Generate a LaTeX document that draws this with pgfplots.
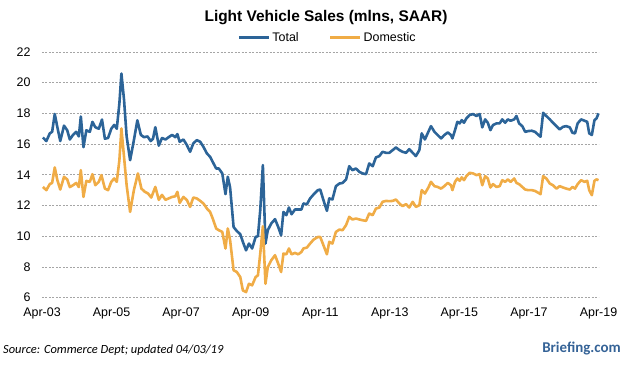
\documentclass[border=0pt]{standalone}
\usepackage{fontspec}
\setmainfont{Liberation Sans}
\newfontfamily\carlito{Carlito}
\usepackage{pgfplots}
\pgfplotsset{compat=1.18}
\usepackage{pgfplotstable}
\definecolor{totblue}{RGB}{44,100,152}
\definecolor{domorange}{RGB}{240,172,70}
\definecolor{gridgray}{RGB}{165,165,165}
\definecolor{brief}{RGB}{52,98,150}

\pgfplotstableread{
m v
0.3 16.43
1.5 16.2
2.7 16.7
3.5 16.8
4.4 17.96
5.3 17.1
6.3 16.2
7.6 17.2
8.7 16.9
9.6 16.3
10.7 16.6
11.8 16.8
12.7 16.5
13.4 17.8
14.3 15.8
15.3 16.9
16.5 16.8
17.4 17.45
18.4 17.1
19.6 17.0
20.7 17.6
21.7 16.35
22.8 16.4
23.9 17.0
24.9 17.25
25.8 17.0
26.7 18.65
27.4 20.6
28.3 18.9
29.2 16.5
30.4 14.95
31.7 16.25
32.9 17.55
34.1 16.6
35.2 16.45
36.4 16.5
37.5 16.2
38.3 16.35
39.1 17.1
40.3 15.9
41.4 16.4
42.6 16.3
43.7 16.45
44.9 16.6
46.0 16.45
46.7 16.65
47.5 16.15
48.8 16.3
50.0 15.93
51.1 15.5
52.2 16.04
53.4 16.26
54.6 16.15
55.7 15.82
56.9 15.39
58.0 15.17
58.9 14.84
60.1 14.41
61.0 14.41
62.2 14.09
63.3 12.74
64.1 13.87
64.9 13.17
66.1 10.6
67.2 10.34
68.4 10.13
69.3 9.63
70.4 9.08
71.4 9.52
72.5 9.2
73.7 9.95
74.5 10.0
75.3 11.7
76.2 14.63
77.1 9.52
77.9 10.39
79.1 10.83
80.4 11.11
81.5 10.6
82.5 10.06
83.3 11.58
84.3 11.37
85.2 11.87
86.1 11.43
87.3 11.74
88.4 11.74
89.5 11.74
90.2 12.13
91.4 12.08
92.5 12.46
93.7 12.72
95.2 13.0
96.0 13.04
97.1 12.35
98.3 11.65
99.1 12.46
100.2 12.39
101.4 13.26
102.6 13.43
103.7 13.47
104.9 13.69
106.0 14.56
107.1 14.3
108.3 14.41
109.5 14.19
110.6 14.09
111.8 14.04
112.9 14.74
114.1 14.56
115.2 15.13
116.4 15.22
117.5 15.5
118.7 15.43
119.8 15.43
121.0 15.61
122.1 15.78
123.3 15.61
124.4 15.5
125.6 15.43
126.7 15.67
127.9 15.43
129.0 15.22
130.2 15.61
131.0 16.7
132.1 16.3
133.3 16.8
134.2 17.17
135.4 16.8
136.5 16.59
137.7 16.37
138.8 16.59
140.0 16.76
141.1 16.59
141.6 16.37
142.5 16.91
143.3 17.45
144.1 17.35
144.8 17.56
145.6 17.39
146.4 17.67
147.5 17.89
148.7 17.96
149.9 17.83
151.0 17.96
151.9 17.09
152.9 17.61
153.8 17.39
154.7 16.91
155.6 17.24
156.8 17.35
157.9 17.35
158.8 17.61
159.8 17.39
160.7 17.61
161.7 17.52
162.9 17.61
163.7 17.83
164.6 17.35
165.7 17.17
166.7 16.8
167.8 16.85
169.0 16.87
170.1 16.8
171.3 16.59
172.0 16.48
172.9 18.04
174.0 17.83
175.2 17.61
176.3 17.39
177.5 17.17
178.6 16.96
179.8 17.13
180.9 17.17
182.1 17.09
183.0 16.74
183.9 16.7
184.8 17.35
186.0 17.61
187.2 17.52
188.1 17.45
188.8 16.7
189.7 16.59
190.6 17.56
191.3 17.67
192.0 18.0
}\totaltable

\pgfplotstableread{
m v
0.3 13.21
1.5 13.0
2.7 13.4
3.5 13.47
4.4 14.48
5.3 13.65
6.3 13.04
7.6 13.87
8.7 13.7
9.6 13.2
10.7 13.32
11.8 13.47
12.7 13.2
13.4 14.3
14.3 12.56
15.3 13.6
16.5 13.54
17.4 14.04
18.4 13.32
19.6 13.54
20.5 13.98
21.7 13.1
22.8 13.0
23.9 13.54
24.9 13.76
25.8 13.54
26.7 14.95
27.4 17.02
28.3 15.17
29.2 13.32
30.4 11.58
31.7 13.0
33.1 14.09
34.3 13.1
35.5 12.89
36.6 12.78
37.7 12.52
39.1 13.21
40.3 12.37
41.4 12.69
42.6 12.37
43.7 12.46
44.9 12.56
46.0 12.6
46.7 12.89
47.5 12.17
48.8 12.56
50.0 12.35
51.1 11.91
52.2 12.52
53.4 12.46
54.6 12.3
55.7 12.13
56.9 11.8
58.0 11.58
58.9 11.15
60.1 10.5
61.0 10.39
62.2 10.28
63.3 9.2
64.1 10.5
64.9 9.74
66.1 7.78
67.2 7.67
68.4 7.34
69.3 6.47
70.4 6.36
71.4 6.9
72.5 6.8
73.7 7.34
74.5 7.45
75.3 8.87
76.2 10.65
77.1 6.9
77.9 7.99
79.1 8.43
80.4 8.76
81.5 8.21
82.5 7.67
83.3 8.87
84.3 8.82
85.2 9.2
86.1 8.82
87.3 8.91
88.4 8.82
89.5 8.97
90.2 9.2
91.4 9.26
92.5 9.52
93.7 9.78
95.2 9.95
96.0 9.95
97.1 9.41
98.3 8.82
99.1 9.63
100.2 9.52
101.4 10.28
102.6 10.43
103.7 10.39
104.9 10.72
106.0 11.26
107.1 11.09
108.3 11.15
109.5 11.09
110.6 11.04
111.8 11.0
112.9 11.48
114.1 11.37
115.2 11.8
116.4 11.87
117.5 12.24
118.7 12.3
119.8 12.28
121.0 12.3
122.1 12.39
123.3 12.13
124.4 11.96
125.6 12.09
126.7 11.87
127.9 12.24
129.0 11.91
130.2 12.02
131.0 13.0
132.1 12.78
133.3 13.17
134.2 13.54
135.4 13.26
136.5 13.21
137.7 13.1
138.8 13.26
140.0 13.47
141.1 13.32
141.6 13.0
142.5 13.54
143.3 13.76
144.1 13.61
144.8 13.83
145.6 13.65
146.4 13.91
147.5 14.13
148.7 14.09
149.9 13.98
151.0 14.04
151.9 13.32
152.9 13.91
153.8 13.76
154.7 13.17
155.6 13.39
156.8 13.21
157.9 13.26
158.8 13.65
159.8 13.54
160.7 13.7
161.7 13.54
162.9 13.76
163.7 13.47
164.6 13.39
165.7 13.21
166.7 13.04
167.8 13.0
169.0 13.0
170.1 12.95
171.3 12.82
172.0 12.74
172.9 13.91
174.0 13.76
175.2 13.43
176.3 13.32
177.5 13.1
178.6 13.26
179.8 13.17
180.9 13.1
182.1 13.04
183.0 13.21
183.9 13.1
184.8 13.39
186.0 13.65
187.2 13.54
188.1 13.61
188.8 13.0
189.7 12.67
190.6 13.61
191.3 13.7
192.0 13.65
}\domtable

\begin{document}
\begin{tikzpicture}
\path[use as bounding box] (-42bp,-69.4bp) rectangle (584bp,297.6bp);
\begin{axis}[
  anchor=south west,
  scale only axis, width=556.5bp, height=245.6bp,
  xmin=0, xmax=192, ymin=6, ymax=22,
  xtick={0,24,...,192},
  xticklabels={Apr-03,Apr-05,Apr-07,Apr-09,Apr-11,Apr-13,Apr-15,Apr-17,Apr-19},
  ytick={6,8,...,22},
  axis line style={draw=none},
  major tick length=0pt,
  ymajorgrids,
  grid style={gridgray, dash pattern=on 2bp off 1.5bp, line width=0.6bp},
  tick label style={font=\fontsize{12.5}{14}\selectfont, text=black},
  yticklabel style={anchor=east, xshift=-8bp},
  xticklabel style={anchor=north, yshift=-7bp},
  /pgf/number format/assume math mode=true,
  clip=false,
  legend columns=2,
  legend style={at={(rel axis cs:0.513,1.057)}, anchor=center, draw=none, fill=none,
    font=\fontsize{12.5}{14}\selectfont, inner sep=0pt,
    /tikz/every even column/.append style={column sep=28bp}},
  legend image code/.code={\draw[#1, line width=3bp] (0bp,0bp) -- (30bp,0bp);},
]
\addplot[totblue, line width=2.6bp, line join=round] table[x=m,y=v] {\totaltable};
\addlegendentry{Total}
\addplot[domorange, line width=2.6bp, line join=round] table[x=m,y=v] {\domtable};
\addlegendentry{Domestic}
\end{axis}
\node[font=\bfseries\fontsize{15.5}{18}\selectfont] at (284bp,279.6bp) {Light Vehicle Sales (mlns, SAAR)};
\node[anchor=west, font=\carlito\itshape\fontsize{12.5}{14}\selectfont, inner sep=0pt] at (-39bp,-52.4bp) {Source: Commerce Dept; updated 04/03/19};
\node[anchor=east, font=\carlito\bfseries\fontsize{15}{18}\selectfont, text=brief, inner sep=0pt] at (579bp,-51.4bp) {Briefing.com};
\end{tikzpicture}
\end{document}
